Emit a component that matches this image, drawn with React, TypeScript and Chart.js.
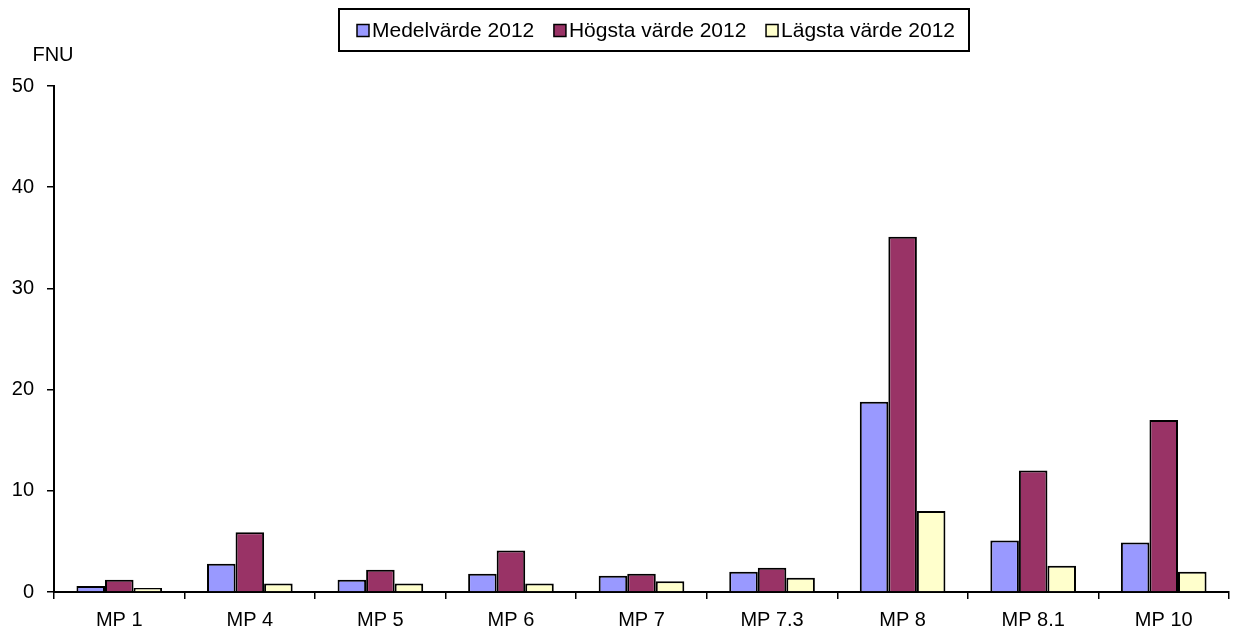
import React, { useEffect, useRef } from "react";
import { Chart, registerables } from "chart.js";

Chart.register(...registerables);

// Measuring points along the watercourse
const categories = ["MP 1", "MP 4", "MP 5", "MP 6", "MP 7", "MP 7.3", "MP 8", "MP 8.1", "MP 10"];

// Turbidity (FNU) per measuring point, 2012
const meanValues = [0.6, 2.8, 1.2, 1.8, 1.6, 2.0, 18.8, 5.1, 4.9];
const maxValues = [1.2, 5.9, 2.2, 4.1, 1.8, 2.4, 35.1, 12.0, 17.0];
const minValues = [0.4, 0.85, 0.85, 0.85, 1.05, 1.4, 8.0, 2.6, 2.0];

const seriesLabels = ["Medelvärde 2012", "Högsta värde 2012", "Lägsta värde 2012"];
const seriesColors = ["#9999FF", "#993366", "#FFFFCC"];

const yTicks = [0, 10, 20, 30, 40, 50];
const unitLabel = "FNU";

const FONT = "'Liberation Sans', Arial, Helvetica, sans-serif";

// Framed legend row above the plot plus the unit caption over the y axis
const decorations = {
  id: "decorations",
  afterDraw(chart: Chart) {
    const { ctx } = chart;
    ctx.save();

    // unit caption
    ctx.font = `20px ${FONT}`;
    ctx.fillStyle = "#000";
    ctx.textAlign = "center";
    ctx.textBaseline = "middle";
    ctx.fillText(unitLabel, 53, 55);

    // legend frame
    const boxLeft = 339;
    const boxRight = 969;
    const boxTop = 9;
    const boxBottom = 51;
    ctx.lineWidth = 2;
    ctx.strokeStyle = "#000";
    ctx.strokeRect(boxLeft, boxTop, boxRight - boxLeft, boxBottom - boxTop);

    ctx.font = `21px ${FONT}`;
    ctx.textAlign = "left";
    const sq = 12;
    const textGap = 3;
    const widths = seriesLabels.map((l) => ctx.measureText(l).width);
    const itemsWidth = widths.reduce((a, w) => a + sq + textGap + w, 0);
    const startX = 357;
    const endX = boxRight - 14;
    const gap = (endX - startX - itemsWidth) / (seriesLabels.length - 1);
    const cy = (boxTop + boxBottom) / 2 + 0.5;
    let x = startX;
    seriesLabels.forEach((label, i) => {
      ctx.fillStyle = seriesColors[i];
      ctx.fillRect(x, cy - sq / 2, sq, sq);
      ctx.lineWidth = 1.5;
      ctx.strokeStyle = "#000";
      ctx.strokeRect(x, cy - sq / 2, sq, sq);
      ctx.fillStyle = "#000";
      ctx.fillText(label, x + sq + textGap, cy + 1);
      x += sq + textGap + widths[i] + gap;
    });

    ctx.restore();
  },
};

export default function App() {
  const canvasRef = useRef<HTMLCanvasElement | null>(null);

  useEffect(() => {
    document.body.style.margin = "0";
    const canvas = canvasRef.current;
    if (!canvas) return;

    const dataSets = [meanValues, maxValues, minValues];

    const chart = new Chart(canvas, {
      type: "bar",
      data: {
        labels: categories,
        datasets: dataSets.map((values, i) => ({
          label: seriesLabels[i],
          data: values,
          backgroundColor: seriesColors[i],
          borderColor: "#000",
          borderWidth: 2,
          categoryPercentage: 0.656,
          barPercentage: 1.0,
        })),
      },
      options: {
        responsive: false,
        animation: false,
        devicePixelRatio: 1,
        layout: { padding: { top: 86, right: 5, left: 0, bottom: 0 } },
        plugins: {
          legend: { display: false },
          tooltip: { enabled: false },
          title: { display: false },
        },
        scales: {
          x: {
            grid: {
              display: true,
              drawOnChartArea: false,
              drawTicks: true,
              tickLength: 7,
              color: "#000",
              lineWidth: 1.5,
              offset: true,
            },
            border: { display: true, color: "#000", width: 2 },
            ticks: {
              color: "#000",
              font: { family: FONT, size: 20 },
              padding: 9,
              maxRotation: 0,
              autoSkip: false,
            },
            afterFit(scale: any) {
              scale.height = 42;
            },
          },
          y: {
            min: 0,
            max: 50,
            afterBuildTicks(scale: any) {
              scale.ticks = yTicks.map((v) => ({ value: v }));
            },
            grid: {
              display: true,
              drawOnChartArea: false,
              drawTicks: true,
              tickLength: 7,
              color: "#000",
              lineWidth: 1.5,
            },
            border: { display: true, color: "#000", width: 2 },
            ticks: {
              color: "#000",
              font: { family: FONT, size: 20 },
              padding: 13,
            },
            afterFit(scale: any) {
              scale.width = 54;
            },
          },
        },
      },
      plugins: [decorations],
    });

    return () => chart.destroy();
  }, []);

  return (
    <div style={{ width: 1234, height: 634 }}>
      <canvas ref={canvasRef} width={1234} height={634} />
    </div>
  );
}
